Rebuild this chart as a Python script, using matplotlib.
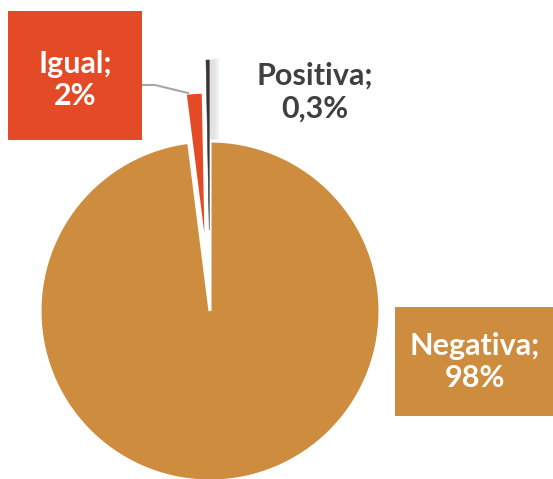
import matplotlib
matplotlib.use("Agg")
import matplotlib.pyplot as plt
from matplotlib.patches import Rectangle

categories = ["Negativa", "Igual", "Positiva"]
values = [98.0, 1.7, 0.3]
label_texts = ["Negativa;\n98%", "Igual;\n2%", "Positiva;\n0,3%"]
colors = ["#CE8C3F", "#E54A27", "#3A3533"]

W, H = 553, 479
fig = plt.figure(figsize=(W / 100, H / 100), dpi=100)
ax = fig.add_axes([0, 0, 1, 1])

def Y(y):
    return H - y

cx, cy, R = 210, Y(311), 170
explode = [0.0, 49, 81]  # offsets in data units

# subtle shadow for the thin exploded slice
for off, col, lw in [(6, "#EFEFEF", 5), (4, "#E2E2E2", 3)]:
    shadow, _ = ax.pie(values, startangle=90, counterclock=False,
                       colors=["none", "none", col], radius=R, center=(cx + off, cy - 2),
                       explode=explode, wedgeprops=dict(linewidth=0, edgecolor="none"))
    shadow[2].set_edgecolor(col)
    shadow[2].set_linewidth(lw)
    shadow[2].set_zorder(1)

wedges, _ = ax.pie(values, startangle=90, counterclock=False, colors=colors,
                   radius=R, center=(cx, cy), explode=explode,
                   wedgeprops=dict(linewidth=2.2, edgecolor="white"))
wedges[2].set_edgecolor(colors[2])
wedges[2].set_linewidth(0.4)
wedges[2].set_zorder(3)

ax.set_xlim(0, W)
ax.set_ylim(0, H)
ax.set_aspect("equal")
ax.axis("off")

font = dict(family="Lato", weight="bold")

# Igual label box
ax.add_patch(Rectangle((8, Y(140)), 134, 129, facecolor=colors[1], edgecolor="none", zorder=4))
ax.text(75, Y(80), label_texts[1], ha="center", va="center", color="white",
        fontsize=22, linespacing=1.2, zorder=5, **font)
# leader line
ax.plot([142, 155, 188], [Y(85), Y(85), Y(93)], color="#A6A6A6", lw=1.5, zorder=2)

# Negativa label box
ax.add_patch(Rectangle((395, Y(416)), 160, 109, facecolor=colors[0], edgecolor="none", zorder=4))
ax.text(475, Y(362), label_texts[0], ha="center", va="center", color="white",
        fontsize=22, linespacing=1.2, zorder=5, **font)

# Positiva label
ax.text(315, Y(92), label_texts[2], ha="center", va="center", color="#404040",
        fontsize=22, linespacing=1.25, zorder=5, **font)

fig.savefig("out.png", dpi=100)
